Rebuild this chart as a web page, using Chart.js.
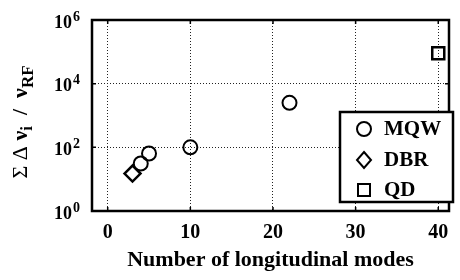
<!DOCTYPE html>
<html>
<head>
<meta charset="utf-8">
<script src="https://cdn.jsdelivr.net/npm/chart.js@4"></script>
<style>
  html, body { margin: 0; padding: 0; background: #fff; }
  #wrap { width: 460px; height: 280px; position: relative; }
</style>
</head>
<body>
<div id="wrap"><canvas id="chart"></canvas></div>
<script>
const mqwModes = [4, 5, 10, 22];
const mqwValues = [31, 64, 100, 2500];
const dbrModes = [3];
const dbrValues = [15];
const qdModes = [40];
const qdValues = [90000];

const xTickValues = [0, 10, 20, 30, 40];
const yTickExponents = [0, 2, 4, 6];
const legendLabels = ['MQW', 'DBR', 'QD'];

const FONT = '"Liberation Serif", "Times New Roman", serif';

function toPoints(xs, ys) {
  return xs.map((x, i) => ({ x, y: ys[i] }));
}

function drawMarker(ctx, style, x, y) {
  ctx.save();
  ctx.lineWidth = 2;
  ctx.strokeStyle = '#000';
  ctx.beginPath();
  if (style === 'circle') {
    ctx.arc(x, y, 7, 0, Math.PI * 2);
  } else if (style === 'diamond') {
    ctx.moveTo(x, y - 8);
    ctx.lineTo(x + 7, y);
    ctx.lineTo(x, y + 8);
    ctx.lineTo(x - 7, y);
    ctx.closePath();
  } else {
    ctx.rect(x - 6, y - 6, 12, 12);
  }
  ctx.stroke();
  ctx.restore();
}

const decorations = {
  id: 'decorations',
  afterDraw(chart) {
    const { ctx, chartArea: area, scales } = chart;
    const xs = scales.x;
    const ys = scales.y;
    ctx.save();

    // frame
    ctx.strokeStyle = '#000';
    ctx.lineWidth = 2.5;
    ctx.strokeRect(area.left, area.top, area.right - area.left, area.bottom - area.top);

    // inward tick marks
    ctx.lineWidth = 1.5;
    ctx.beginPath();
    xTickValues.forEach((v) => {
      const px = xs.getPixelForValue(v);
      ctx.moveTo(px, area.bottom);
      ctx.lineTo(px, area.bottom - 4);
      ctx.moveTo(px, area.top);
      ctx.lineTo(px, area.top + 4);
    });
    yTickExponents.forEach((e) => {
      const py = ys.getPixelForValue(Math.pow(10, e));
      ctx.moveTo(area.left, py);
      ctx.lineTo(area.left + 4, py);
      ctx.moveTo(area.right, py);
      ctx.lineTo(area.right - 4, py);
    });
    ctx.stroke();

    ctx.fillStyle = '#000';

    // x tick labels
    ctx.font = 'bold 20px ' + FONT;
    ctx.textAlign = 'center';
    ctx.textBaseline = 'middle';
    xTickValues.forEach((v) => {
      ctx.fillText(String(v), xs.getPixelForValue(v), 233);
    });

    // y tick labels 10^n
    yTickExponents.forEach((e) => {
      const py = ys.getPixelForValue(Math.pow(10, e));
      ctx.font = 'bold 18px ' + FONT;
      ctx.textAlign = 'right';
      ctx.textBaseline = 'middle';
      ctx.fillText('10', 72, py + 3);
      ctx.font = 'bold 14px ' + FONT;
      ctx.textAlign = 'left';
      ctx.fillText(String(e), 73, py - 3);
    });

    // x axis title
    ctx.font = 'bold 22px ' + FONT;
    ctx.textAlign = 'center';
    ctx.textBaseline = 'middle';
    ctx.fillText('Number of longitudinal modes', (area.left + area.right) / 2, 260);

    // y axis title, rotated, with subscripts
    const parts = [
      { t: 'Σ Δ ', font: '22px ' + FONT, dy: 0 },
      { t: 'ν', font: 'bold 22px ' + FONT, dy: 0 },
      { t: 'i', font: 'bold 17px ' + FONT, dy: 7 },
      { t: '  /  ', font: 'bold 22px ' + FONT, dy: 0 },
      { t: 'ν', font: 'bold 22px ' + FONT, dy: 0 },
      { t: 'RF', font: 'bold 17px ' + FONT, dy: 8 },
    ];
    let total = 0;
    parts.forEach((p) => {
      ctx.font = p.font;
      p.w = ctx.measureText(p.t).width;
      total += p.w;
    });
    ctx.translate(21, 122);
    ctx.rotate(-Math.PI / 2);
    ctx.textAlign = 'left';
    ctx.textBaseline = 'middle';
    let cx = -total / 2;
    parts.forEach((p) => {
      ctx.font = p.font;
      ctx.fillText(p.t, cx, p.dy);
      cx += p.w;
    });
    ctx.setTransform(1, 0, 0, 1, 0, 0);

    // legend
    const lx = 340, ly = 112, lw = 113, lh = 90;
    ctx.fillStyle = '#fff';
    ctx.fillRect(lx, ly, lw, lh);
    ctx.lineWidth = 2.5;
    ctx.strokeStyle = '#000';
    ctx.strokeRect(lx, ly, lw, lh);
    const styles = ['circle', 'diamond', 'square'];
    const rowsY = [129, 160, 190];
    ctx.fillStyle = '#000';
    ctx.font = 'bold 21px ' + FONT;
    ctx.textAlign = 'left';
    ctx.textBaseline = 'middle';
    legendLabels.forEach((label, i) => {
      drawMarker(ctx, styles[i], 364, rowsY[i]);
      ctx.fillText(label, 384, rowsY[i] + 1);
    });

    ctx.restore();
  },
};

new Chart(document.getElementById('chart'), {
  type: 'scatter',
  data: {
    datasets: [
      {
        label: 'MQW',
        data: toPoints(mqwModes, mqwValues),
        pointStyle: 'circle',
        pointRadius: 7,
        borderWidth: 2,
        borderColor: '#000',
        backgroundColor: 'rgba(0,0,0,0)',
      },
      {
        label: 'DBR',
        data: toPoints(dbrModes, dbrValues),
        pointStyle: 'rectRot',
        pointRadius: 8,
        borderWidth: 2.5,
        borderColor: '#000',
        backgroundColor: 'rgba(0,0,0,0)',
      },
      {
        label: 'QD',
        data: toPoints(qdModes, qdValues),
        pointStyle: 'rect',
        pointRadius: 8.5,
        borderWidth: 2.5,
        borderColor: '#000',
        backgroundColor: 'rgba(0,0,0,0)',
      },
    ],
  },
  options: {
    responsive: true,
    maintainAspectRatio: false,
    animation: false,
    layout: { padding: { top: 20, right: 3, left: 0, bottom: 0 } },
    plugins: {
      legend: { display: false },
      tooltip: { enabled: false },
    },
    scales: {
      x: {
        type: 'linear',
        min: -1.9,
        max: 41.3,
        afterBuildTicks(scale) {
          scale.ticks = xTickValues.map((v) => ({ value: v }));
        },
        afterFit(scale) {
          scale.height = 69;
        },
        ticks: { display: false },
        grid: { color: '#222', lineWidth: 1, drawTicks: false },
        border: { display: false, dash: [1, 2] },
      },
      y: {
        type: 'logarithmic',
        min: 1,
        max: 1e6,
        afterBuildTicks(scale) {
          scale.ticks = yTickExponents.map((e) => ({ value: Math.pow(10, e) }));
        },
        afterFit(scale) {
          scale.width = 92;
        },
        ticks: { display: false },
        grid: { color: '#222', lineWidth: 1, drawTicks: false },
        border: { display: false, dash: [1, 2] },
      },
    },
  },
  plugins: [decorations],
});
</script>
</body>
</html>
